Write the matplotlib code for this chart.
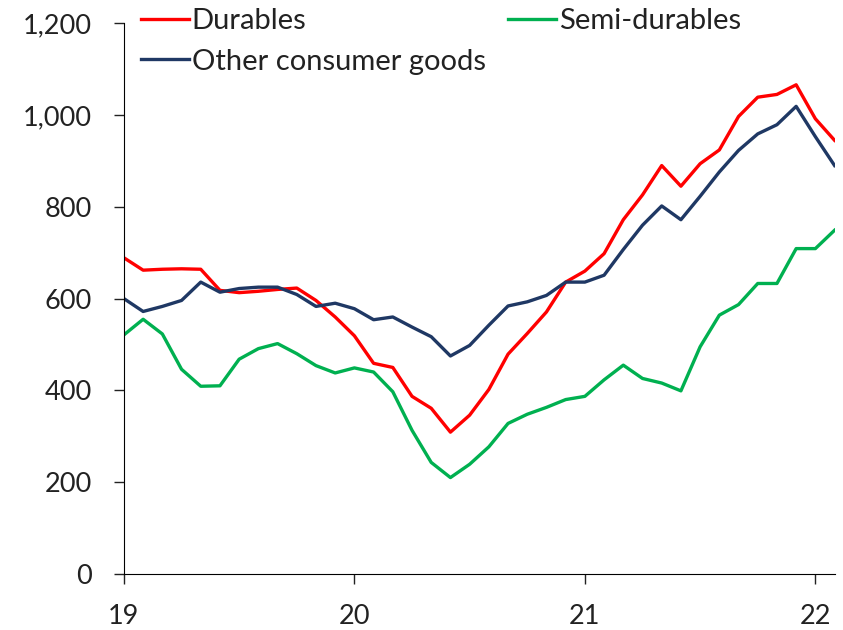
import numpy as np
import matplotlib.pyplot as plt
from matplotlib.ticker import FuncFormatter

# Monthly data, Jan 2019 - Feb 2022
start_year = 19
durables = [689, 662, 664, 665, 664, 618, 613, 616, 620, 623, 596, 560,
            519, 459, 450, 387, 361, 309, 346, 402, 479, 524, 571, 636,
            660, 698, 772, 826, 890, 845, 894, 924, 997, 1039, 1045, 1066,
            992, 945]
semi_durables = [521, 555, 523, 446, 409, 410, 468, 491, 502, 480, 454, 438,
                 449, 440, 397, 313, 243, 210, 239, 277, 328, 348, 363, 380,
                 387, 423, 455, 426, 416, 399, 495, 564, 587, 633, 633, 709,
                 709, 749]
other_goods = [600, 572, 583, 596, 636, 614, 622, 625, 625, 609, 583, 590,
               578, 554, 560, 538, 517, 475, 498, 542, 584, 593, 607, 636,
               636, 651, 707, 760, 802, 772, 823, 876, 923, 959, 979, 1019,
               953, 890]
labels = ["Durables", "Semi-durables", "Other consumer goods"]
colors = ["#FF0000", "#00B050", "#1F3864"]

x = start_year + np.arange(len(durables)) / 12.0

plt.rcParams['font.family'] = ['Lato', 'DejaVu Sans']

fig = plt.figure(figsize=(8.43, 6.3), dpi=100)
ax = fig.add_axes([0.147, 0.089, 0.843, 0.874])

l1, = ax.plot(x, durables, color=colors[0], lw=2.4, label=labels[0])
l2, = ax.plot(x, semi_durables, color=colors[1], lw=2.4, label=labels[1])
l3, = ax.plot(x, other_goods, color=colors[2], lw=2.4, label=labels[2])

ax.set_xlim(x[0], x[-1])
ax.set_ylim(0, 1200)
ax.set_xticks([19, 20, 21, 22])
ax.set_yticks(range(0, 1201, 200))
ax.yaxis.set_major_formatter(FuncFormatter(lambda v, p: f"{int(v):,}"))
ax.spines['top'].set_visible(False)
ax.spines['right'].set_visible(False)
ax.tick_params(direction='out', length=7, width=1, labelsize=19.5,
               colors='#222222')
ax.tick_params(axis='y', pad=16)
ax.tick_params(axis='x', pad=15)

leg = ax.legend(handles=[l1, l3, l2], ncol=2, loc='upper left',
                bbox_to_anchor=(-0.005, 1.065), frameon=False, fontsize=21,
                handlelength=1.65, handletextpad=0.1, columnspacing=0.75,
                labelspacing=0.5, borderaxespad=0.3)
for t in leg.get_texts():
    t.set_color('#222222')

fig.savefig("out.png", dpi=100)
